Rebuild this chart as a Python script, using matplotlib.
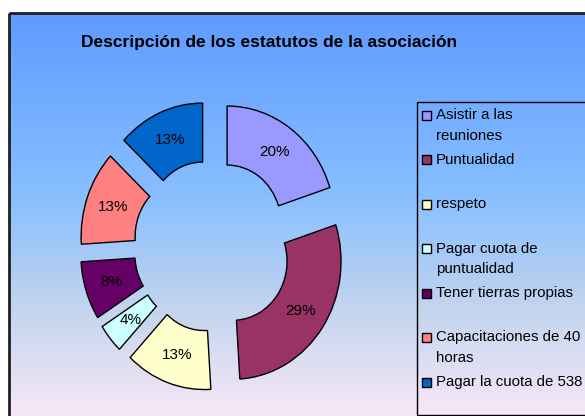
import matplotlib.pyplot as plt
import numpy as np
from matplotlib.colors import LinearSegmentedColormap
from matplotlib.patches import Rectangle

plt.rcParams['font.family'] = ['Liberation Sans', 'DejaVu Sans']

titulo = "Descripción de los estatutos de la asociación"
etiquetas = ["Asistir a las\nreuniones", "Puntualidad", "respeto",
             "Pagar cuota de\npuntualidad", "Tener tierras propias",
             "Capacitaciones de 40\nhoras", "Pagar la cuota de 538"]
valores = [20, 29, 13, 4, 8, 13, 13]
colores = ["#9999FF", "#993366", "#FFFFCC", "#CCFFFF", "#660066", "#FF8080", "#0066CC"]

W, H = 585, 416
fig = plt.figure(figsize=(W / 100, H / 100), dpi=100)

# fondo con degradado (coordenadas en pixeles, y hacia abajo)
fondo = fig.add_axes([0, 0, 1, 1])
fondo.set_xlim(0, W)
fondo.set_ylim(H, 0)
fondo.axis("off")
grad = LinearSegmentedColormap.from_list(
    "fondo", [(0, "#5F9BFF"), (0.45, "#88BFFF"), (0.72, "#C2D4EE"), (1, "#FAE8F8")])
fondo.add_patch(Rectangle((0, 0), W, H, color="white", zorder=0))
fondo.imshow(np.linspace(0, 1, 256).reshape(-1, 1), cmap=grad, aspect="auto",
             extent=(9, W + 5, H + 5, 13), zorder=1)
fondo.add_patch(Rectangle((9, 13), W, H, fill=False, ec="#202020", lw=2, zorder=2))

fondo.text(269, 43, titulo, ha="center", va="center", fontsize=12.5,
           fontweight="bold", zorder=3)

# leyenda
fondo.add_patch(Rectangle((417, 102), 200, 313, fill=False, ec="black", lw=1, zorder=3))
for i, (et, col) in enumerate(zip(etiquetas, colores)):
    y0 = 115 + 44.5 * i
    fondo.add_patch(Rectangle((421.5, y0 - 4.5), 9, 9, fc=col, ec="black", lw=1, zorder=4))
    for j, linea in enumerate(et.split("\n")):
        fondo.text(436, y0 + 21 * j, linea, ha="left", va="center", fontsize=10.8, zorder=4)

# anillo
ax = fig.add_axes([0, 0, 1, 1])
ax.patch.set_alpha(0)
ax.pie(valores, colors=colores, startangle=90, counterclock=False,
       explode=[0.23] * len(valores), autopct="%.0f%%", pctdistance=0.75,
       wedgeprops=dict(width=0.5, edgecolor="black", linewidth=1),
       textprops=dict(fontsize=11, color="black"))
cx, cy, sx, sy = 212.5, 246, 108, 118
ax.set_xlim(-cx / sx, (W - cx) / sx)
ax.set_ylim(-(H - cy) / sy, cy / sy)
ax.set_aspect("auto")
ax.axis("off")

fig.savefig("out.png", dpi=100)
